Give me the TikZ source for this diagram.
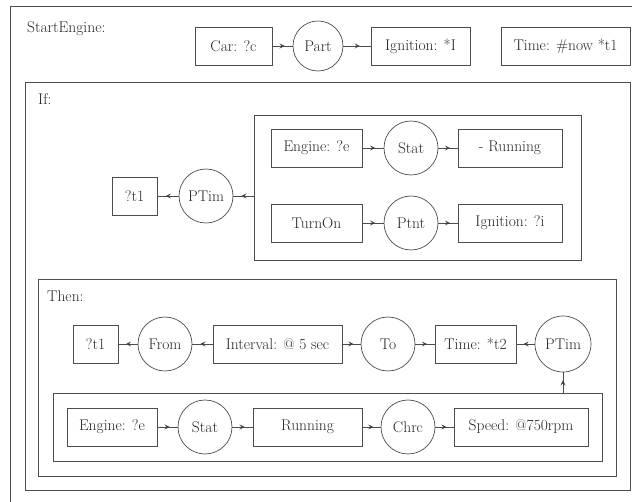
\documentclass[tikz,border=0pt]{standalone}
\usetikzlibrary{arrows.meta,decorations.markings}
\begin{document}
\begin{tikzpicture}[x=1pt,y=-1pt,
  every node/.style={font=\fontsize{15.5}{17}\selectfont, text=black!85},
  box/.style={draw=black!70, line width=0.7pt, rectangle, minimum height=38pt, inner sep=0pt},
  circ/.style={draw=black!70, line width=0.7pt, circle, minimum size=54pt, inner sep=0pt},
  frame/.style={draw=black!70, line width=0.8pt, rectangle, inner sep=0pt},
  lbl/.style={anchor=west, inner sep=0pt},
  conn/.style={draw=black!70, line width=0.7pt, postaction={decorate},
    decoration={markings, mark=at position 0.6 with {\arrow[black!75]{Stealth[length=5pt,width=5pt,inset=2pt]}}}}]
\useasboundingbox (0,0) rectangle (632,502);
\clip (0,0) rectangle (632,502);
% outer frame
\node[frame, minimum width=630pt, minimum height=504pt] (outer) at (325,258) {};
\node[lbl] (selabel) at (27,29) {StartEngine:};
\node[box, minimum width=77pt] (car) at (233.5,46) {Car: ?c};
\node[circ, minimum size=50pt] (part) at (318,46) {Part};
\node[box, minimum width=99pt] (ign) at (420.5,46) {Ignition: *I};
\node[box, minimum width=129pt] (time1) at (565.5,46) {Time: \#now *t1};
\draw[conn] (car) -- (part);
\draw[conn] (part) -- (ign);
% If frame
\node[frame, minimum width=605pt, minimum height=408pt] (ifframe) at (327.5,286) {};
\node[lbl] (iflabel) at (38,99) {If:};
\node[frame, minimum width=327pt, minimum height=145pt] (ifin) at (417.5,187.5) {};
\node[box, minimum width=91pt] (eng1) at (316.5,148) {Engine: ?e};
\node[circ] (stat1) at (411,148) {Stat};
\node[box, minimum width=104pt] (run1) at (510,148) {{-} Running};
\node[box, minimum width=91pt] (turnon) at (316.5,223) {TurnOn};
\node[circ] (ptnt) at (411,223) {Ptnt};
\node[box, minimum width=104pt] (ign2) at (510,223) {Ignition: ?i};
\node[box, minimum width=45pt] (t1a) at (134.5,196) {?t1};
\node[circ] (ptim1) at (206,196) {PTim};
\draw[conn] (eng1) -- (stat1);
\draw[conn] (stat1) -- (run1);
\draw[conn] (turnon) -- (ptnt);
\draw[conn] (ptnt) -- (ign2);
\draw[conn] (ifin.west |- ptim1) -- (ptim1);
\draw[conn] (ptim1) -- (t1a);
% Then frame
\node[frame, minimum width=578pt, minimum height=197pt] (thenframe) at (327,377.5) {};
\node[lbl] (thenlabel) at (47,296) {Then:};
\node[box, minimum width=45pt] (t1b) at (95.5,344) {?t1};
\node[circ] (from) at (165,344) {From};
\node[box, minimum width=129pt] (interval) at (277.5,344) {Interval: @ 5 sec};
\node[circ] (to) at (388,344) {To};
\node[box, minimum width=81pt] (time2) at (475.5,344) {Time: *t2};
\node[circ, minimum size=56pt] (ptim2) at (563,344) {PTim};
\node[frame, minimum width=549pt, minimum height=68pt] (thenin) at (327.5,427) {};
\node[box, minimum width=90pt] (eng2) at (112,427) {Engine: ?e};
\node[circ] (stat2) at (205,427) {Stat};
\node[box, minimum width=109pt] (run2) at (307.5,427) {Running};
\node[circ] (chrc) at (408,427) {Chrc};
\node[box, minimum width=134pt] (speed) at (521,427) {Speed: @750rpm};
\draw[conn] (interval) -- (from);
\draw[conn] (from) -- (t1b);
\draw[conn] (interval) -- (to);
\draw[conn] (to) -- (time2);
\draw[conn] (ptim2) -- (time2);
\draw[conn] (thenin.north -| ptim2) -- (ptim2);
\draw[conn] (eng2) -- (stat2);
\draw[conn] (stat2) -- (run2);
\draw[conn] (run2) -- (chrc);
\draw[conn] (chrc) -- (speed);
\end{tikzpicture}
\end{document}
